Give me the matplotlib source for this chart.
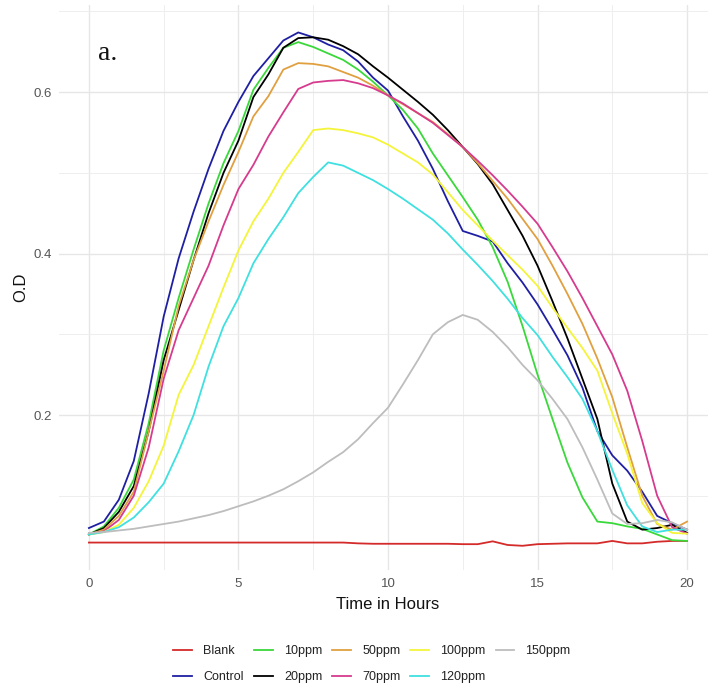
import numpy as np
import matplotlib
matplotlib.use("Agg")
import matplotlib.pyplot as plt
from matplotlib.ticker import MultipleLocator

plt.rcParams["font.family"] = ["Liberation Sans", "DejaVu Sans"]

# Sampling times (hours), one reading every half hour
hours = np.linspace(0, 20, 41)

blank = [0.042, 0.042, 0.042, 0.042, 0.042, 0.042, 0.042, 0.042, 0.042, 0.042,
         0.042, 0.042, 0.042, 0.042, 0.042, 0.042, 0.042, 0.042, 0.041, 0.0405,
         0.0405, 0.0405, 0.0405, 0.0405, 0.0405, 0.040, 0.040, 0.0435, 0.039, 0.038,
         0.040, 0.0405, 0.041, 0.041, 0.041, 0.044, 0.041, 0.041, 0.043, 0.044, 0.044]

control = [0.060, 0.068, 0.095, 0.143, 0.227, 0.322, 0.394, 0.452, 0.505, 0.552,
           0.588, 0.620, 0.642, 0.664, 0.674, 0.668, 0.659, 0.652, 0.638, 0.618,
           0.602, 0.570, 0.540, 0.505, 0.465, 0.428, 0.422, 0.415, 0.388, 0.364,
           0.337, 0.306, 0.274, 0.234, 0.180, 0.150, 0.131, 0.105, 0.075, 0.066, 0.058]

ppm10 = [0.052, 0.062, 0.085, 0.120, 0.190, 0.280, 0.345, 0.405, 0.462, 0.512,
         0.552, 0.603, 0.630, 0.655, 0.662, 0.656, 0.648, 0.640, 0.628, 0.613,
         0.596, 0.578, 0.555, 0.524, 0.497, 0.470, 0.442, 0.408, 0.365, 0.310,
         0.250, 0.195, 0.141, 0.098, 0.068, 0.066, 0.062, 0.059, 0.052, 0.045, 0.044]

ppm20 = [0.052, 0.060, 0.080, 0.112, 0.180, 0.268, 0.330, 0.392, 0.450, 0.500,
         0.540, 0.594, 0.622, 0.655, 0.667, 0.668, 0.665, 0.657, 0.647, 0.632,
         0.618, 0.603, 0.588, 0.572, 0.553, 0.532, 0.511, 0.486, 0.454, 0.422,
         0.385, 0.341, 0.295, 0.245, 0.195, 0.115, 0.068, 0.058, 0.060, 0.064, 0.054]

ppm50 = [0.052, 0.058, 0.075, 0.105, 0.180, 0.255, 0.335, 0.392, 0.440, 0.485,
         0.526, 0.570, 0.595, 0.628, 0.636, 0.635, 0.632, 0.625, 0.618, 0.608,
         0.596, 0.585, 0.574, 0.563, 0.548, 0.532, 0.512, 0.490, 0.468, 0.443,
         0.418, 0.385, 0.350, 0.313, 0.270, 0.222, 0.160, 0.100, 0.065, 0.058, 0.068]

ppm70 = [0.052, 0.056, 0.070, 0.100, 0.160, 0.245, 0.305, 0.345, 0.385, 0.435,
         0.480, 0.510, 0.545, 0.575, 0.604, 0.612, 0.614, 0.615, 0.611, 0.605,
         0.596, 0.586, 0.574, 0.562, 0.547, 0.532, 0.515, 0.497, 0.478, 0.458,
         0.437, 0.408, 0.378, 0.345, 0.310, 0.275, 0.230, 0.168, 0.100, 0.061, 0.053]

ppm100 = [0.052, 0.055, 0.064, 0.085, 0.118, 0.162, 0.225, 0.262, 0.310, 0.358,
          0.404, 0.440, 0.468, 0.500, 0.526, 0.553, 0.555, 0.553, 0.549, 0.544,
          0.535, 0.524, 0.513, 0.498, 0.476, 0.454, 0.435, 0.416, 0.398, 0.380,
          0.360, 0.333, 0.308, 0.283, 0.255, 0.202, 0.152, 0.091, 0.066, 0.054, 0.053]

ppm120 = [0.052, 0.055, 0.061, 0.073, 0.092, 0.115, 0.155, 0.200, 0.260, 0.310,
          0.345, 0.388, 0.418, 0.445, 0.475, 0.495, 0.513, 0.509, 0.500, 0.491,
          0.480, 0.468, 0.455, 0.442, 0.425, 0.405, 0.386, 0.366, 0.344, 0.320,
          0.299, 0.272, 0.247, 0.220, 0.180, 0.132, 0.088, 0.062, 0.055, 0.058, 0.058]

ppm150 = [0.054, 0.055, 0.057, 0.059, 0.062, 0.065, 0.068, 0.072, 0.076, 0.081,
          0.087, 0.093, 0.100, 0.108, 0.118, 0.129, 0.142, 0.154, 0.170, 0.190,
          0.209, 0.238, 0.268, 0.300, 0.315, 0.324, 0.318, 0.303, 0.284, 0.262,
          0.243, 0.220, 0.195, 0.160, 0.120, 0.078, 0.065, 0.066, 0.070, 0.067, 0.058]

labels = ["Blank", "Control", "10ppm", "20ppm", "50ppm", "70ppm",
          "100ppm", "120ppm", "150ppm"]
series = [blank, control, ppm10, ppm20, ppm50, ppm70, ppm100, ppm120, ppm150]
colors = ["#D42A2A", "#1F1FA3", "#3AD83A", "#000000", "#E0A040",
          "#D63B8E", "#F4F43A", "#3FE0E0", "#BDBDBD"]

fig = plt.figure(figsize=(7.08, 6.93), dpi=100)
ax = fig.add_axes([59 / 708, 123 / 693, 658 / 708, 565 / 693])

for vals, lab, col in zip(series, labels, colors):
    ax.plot(hours, vals, color=col, lw=1.3, label=lab, solid_joinstyle="round")

ax.set_xlim(-1, 21)
ax.set_ylim(0.008, 0.708)
ax.xaxis.set_major_locator(MultipleLocator(5))
ax.xaxis.set_minor_locator(MultipleLocator(2.5))
ax.yaxis.set_major_locator(MultipleLocator(0.2))
ax.yaxis.set_minor_locator(MultipleLocator(0.1))
ax.set_yticks([0.2, 0.4, 0.6])
ax.set_yticklabels(["0.2", "0.4", "0.6"])

ax.grid(which="major", color="#E6E6E6", lw=1.0)
ax.grid(which="minor", color="#EEEEEE", lw=0.7)
ax.set_axisbelow(True)
for s in ax.spines.values():
    s.set_visible(False)
ax.tick_params(which="both", length=0)
ax.tick_params(axis="x", pad=6, labelsize=9.5, labelcolor="#555555")
ax.tick_params(axis="y", pad=5, labelsize=9.5, labelcolor="#555555")

ax.set_xlabel("Time in Hours", fontsize=12, labelpad=5, color="#111111")
ax.set_ylabel("O.D", fontsize=12, labelpad=4, color="#111111")

ax.text(0.3, 0.64, "a.", fontsize=20, family=["Liberation Serif", "DejaVu Serif"],
        ha="left", va="baseline", color="#111111")

leg = fig.legend(loc="center", bbox_to_anchor=(372 / 708, 29 / 693), ncol=5,
                 frameon=False, fontsize=9, handlelength=1.5, handletextpad=0.9,
                 columnspacing=0.8, labelspacing=1.1)
for t in leg.get_texts():
    t.set_color("#222222")

fig.savefig("out.png", dpi=100)
